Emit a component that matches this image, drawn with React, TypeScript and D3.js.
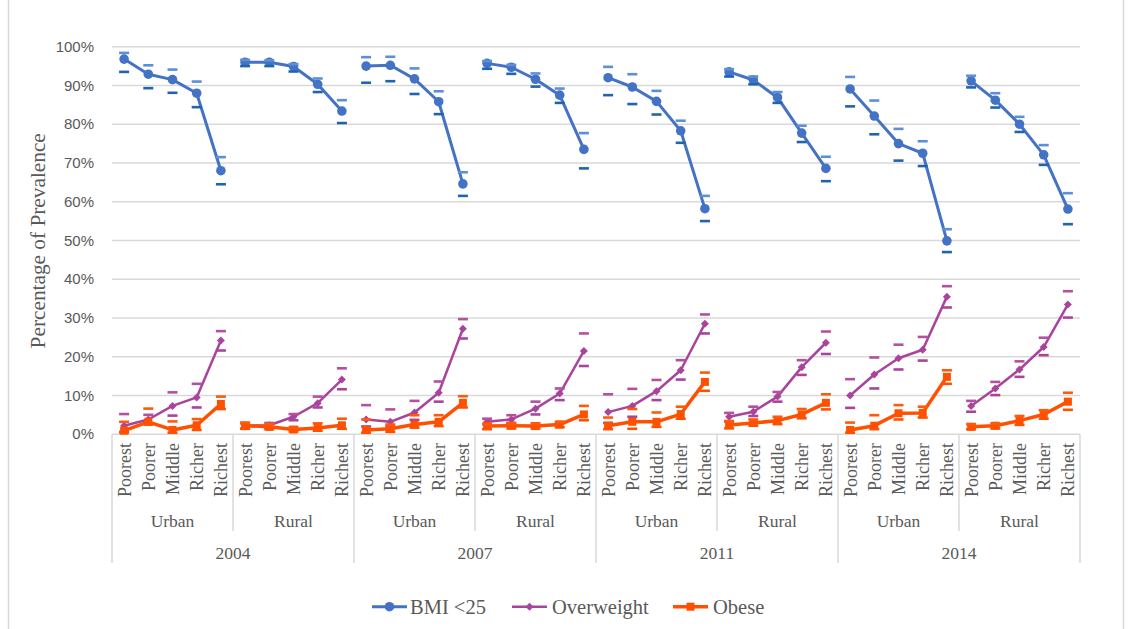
import React from "react";
import * as d3 from "d3";

const years = ["2004", "2007", "2011", "2014"];
const areas = ["Urban", "Rural"];
const quintiles = ["Poorest", "Poorer", "Middle", "Richer", "Richest"];
const yTicks = [0, 10, 20, 30, 40, 50, 60, 70, 80, 90, 100];

const bmiValues = [
  96.8, 92.9, 91.5, 88.0, 68.0, 96.0, 96.0, 94.9, 90.3, 83.4,
  95.0, 95.2, 91.7, 85.8, 64.6, 95.7, 94.7, 91.6, 87.5, 73.5,
  92.0, 89.6, 85.9, 78.3, 58.2, 93.5, 91.4, 86.9, 77.7, 68.6,
  89.1, 82.1, 75.0, 72.5, 49.9, 91.2, 86.2, 80.0, 72.1, 58.1,
];
const bmiUpper = [
  98.4, 95.2, 94.1, 91.0, 71.5, 96.6, 96.5, 95.5, 91.8, 86.2,
  97.3, 97.4, 94.4, 88.5, 67.6, 96.3, 95.3, 93.1, 89.2, 77.7,
  94.8, 92.9, 88.6, 80.9, 61.5, 94.2, 92.3, 88.3, 79.6, 71.6,
  92.2, 86.1, 78.8, 75.6, 52.9, 92.5, 88.0, 81.9, 74.6, 62.2,
];
const bmiLower = [
  93.5, 89.3, 88.1, 84.4, 64.5, 95.0, 95.0, 93.6, 88.3, 80.3,
  90.7, 91.1, 87.8, 82.6, 61.5, 94.3, 93.0, 89.7, 85.5, 68.6,
  87.5, 85.2, 82.5, 75.2, 55.0, 92.3, 90.3, 85.5, 75.4, 65.3,
  84.6, 77.4, 70.6, 69.2, 47.0, 89.5, 84.3, 78.0, 69.5, 54.2,
];

const owValues = [
  2.2, 3.8, 7.3, 9.5, 24.2, 2.2, 2.3, 4.5, 8.0, 14.1,
  3.8, 3.2, 5.6, 10.7, 27.2, 3.2, 3.8, 6.6, 10.5, 21.5,
  5.7, 7.3, 11.1, 16.5, 28.5, 4.5, 5.8, 9.7, 17.3, 23.6,
  10.0, 15.4, 19.6, 21.8, 35.5, 7.3, 11.8, 16.7, 22.5, 33.5,
];
const owUpper = [
  5.2, 5.0, 10.8, 13.0, 26.6, 2.8, 2.9, 5.2, 9.7, 17.0,
  7.5, 6.4, 8.6, 13.6, 29.7, 4.0, 4.9, 8.4, 11.8, 26.0,
  10.3, 11.7, 14.0, 19.1, 30.9, 5.5, 7.1, 10.9, 19.1, 26.5,
  14.2, 19.8, 23.1, 25.1, 38.2, 8.6, 13.5, 18.8, 24.9, 36.9,
];
const owLower = [
  0.6, 2.7, 4.8, 6.9, 21.6, 1.4, 1.5, 3.6, 6.9, 11.6,
  2.0, 2.0, 3.7, 8.4, 24.7, 2.6, 2.9, 5.1, 8.8, 17.6,
  2.9, 4.5, 8.8, 14.1, 26.0, 3.2, 4.7, 8.4, 15.3, 20.7,
  6.8, 11.8, 16.7, 19.0, 32.7, 5.8, 10.1, 14.8, 20.4, 30.1,
];

const obValues = [
  0.9, 3.2, 1.1, 2.3, 7.8, 2.2, 1.9, 1.2, 1.6, 2.3,
  1.1, 1.4, 2.5, 3.2, 8.1, 2.1, 2.2, 2.1, 2.5, 5.1,
  2.2, 3.2, 3.2, 5.2, 13.5, 2.4, 2.9, 3.5, 5.1, 8.1,
  1.1, 2.2, 5.4, 5.5, 14.8, 1.9, 2.2, 3.5, 5.1, 8.4,
];
const obUpper = [
  3.2, 6.6, 3.3, 3.9, 9.7, 3.0, 2.6, 1.8, 2.8, 4.0,
  3.8, 2.5, 4.9, 4.9, 9.8, 2.6, 2.8, 2.8, 3.2, 7.3,
  4.3, 6.5, 5.6, 7.1, 15.9, 3.4, 3.8, 4.5, 6.5, 10.3,
  3.0, 4.9, 7.5, 7.1, 16.5, 2.6, 2.8, 4.7, 6.2, 10.7,
];
const obLower = [
  0.4, 2.5, 0.4, 1.1, 6.5, 1.4, 1.3, 0.7, 0.9, 1.4,
  0.4, 0.6, 1.7, 2.1, 6.9, 1.3, 1.5, 1.5, 1.8, 3.6,
  1.3, 1.4, 1.9, 4.0, 11.2, 1.5, 2.2, 2.6, 4.1, 6.4,
  0.4, 1.3, 3.8, 4.3, 13.0, 1.3, 1.5, 2.4, 4.0, 6.3,
];

const seriesNames = ["BMI <25", "Overweight", "Obese"];

const W = 1129;
const H = 629;
const left = 112;
const right = 1080;
const top = 46.7;
const bottom = 434.2;

const serif = "Liberation Serif, Tinos, DejaVu Serif, Times New Roman, serif";
const sans = "Liberation Sans, Arial, sans-serif";
const textColor = "#595959";
const gridColor = "#d9d9d9";

export default function App() {
  const cats: { year: number; area: number; q: number; idx: number }[] = [];
  years.forEach((_, yi) =>
    areas.forEach((_, ai) =>
      quintiles.forEach((_, qi) =>
        cats.push({ year: yi, area: ai, q: qi, idx: cats.length })
      )
    )
  );
  const x = d3
    .scaleBand<number>()
    .domain(cats.map((c) => c.idx))
    .range([left, right])
    .padding(0);
  const bw = x.bandwidth();
  const cx = (i: number) => (x(i) as number) + bw / 2;
  const y = d3.scaleLinear().domain([0, 100]).range([bottom, top]);

  const series = [
    {
      name: seriesNames[0],
      values: bmiValues,
      upper: bmiUpper,
      lower: bmiLower,
      color: "#4472c4",
      upColor: "#5b8fd8",
      loColor: "#1f64ad",
      width: 3,
      marker: "circle",
    },
    {
      name: seriesNames[1],
      values: owValues,
      upper: owUpper,
      lower: owLower,
      color: "#a8449c",
      upColor: "#b4509f",
      loColor: "#a8449c",
      width: 2.5,
      marker: "diamond",
    },
    {
      name: seriesNames[2],
      values: obValues,
      upper: obUpper,
      lower: obLower,
      color: "#ff5000",
      upColor: "#ff5a0a",
      loColor: "#ff5000",
      width: 3.5,
      marker: "square",
    },
  ];

  const groups: number[][] = [];
  for (let g = 0; g < 8; g++) groups.push(d3.range(g * 5, g * 5 + 5));

  const marker = (type: string, px: number, py: number, color: string, key: string) => {
    if (type === "circle")
      return <circle key={key} cx={px} cy={py} r={4.8} fill={color} />;
    if (type === "diamond")
      return (
        <path
          key={key}
          d={`M${px},${py - 4}L${px + 4},${py}L${px},${py + 4}L${px - 4},${py}Z`}
          fill={color}
        />
      );
    return <rect key={key} x={px - 4} y={py - 4} width={8} height={8} fill={color} />;
  };

  const capW = 10;

  const legendItems = [
    { lx: 372, tx: 410 },
    { lx: 512, tx: 552 },
    { lx: 673, tx: 713 },
  ];

  return (
    <svg
      width={W}
      height={H}
      style={{ position: "absolute", left: 0, top: 0, background: "#fff" }}
    >
      <rect x={0} y={0} width={W} height={H} fill="#fff" />
      <line x1={8.5} x2={8.5} y1={0} y2={H} stroke={gridColor} strokeWidth={1.5} />
      <line x1={1123.5} x2={1123.5} y1={0} y2={H} stroke={gridColor} strokeWidth={1.5} />

      {yTicks.map((t) => (
        <g key={t}>
          <line
            x1={left}
            x2={right}
            y1={y(t)}
            y2={y(t)}
            stroke={gridColor}
            strokeWidth={1.5}
          />
          <text
            x={94}
            y={y(t)}
            dy="0.35em"
            textAnchor="end"
            style={{ fontFamily: sans }}
            fontSize={15}
            fill={textColor}
          >
            {t}%
          </text>
        </g>
      ))}

      <text
        transform={`translate(${45},${240.8}) rotate(-90)`}
        textAnchor="middle"
        style={{ fontFamily: serif }}
        fontSize={21.3}
        fill={textColor}
      >
        Percentage of Prevalence
      </text>

      {cats.map((c) => (
        <text
          key={"c" + c.idx}
          transform={`translate(${cx(c.idx) + 6.5},${443}) rotate(-90)`}
          textAnchor="end"
          style={{ fontFamily: serif }}
          fontSize={18}
          fill={textColor}
        >
          {quintiles[c.q]}
        </text>
      ))}
      {d3.range(0, 9).map((g) => {
        const xx = g < 8 ? (x(g * 5) as number) : right;
        const isYear = g % 2 === 0;
        return (
          <line
            key={"s" + g}
            x1={xx}
            x2={xx}
            y1={bottom}
            y2={isYear ? 563 : 531}
            stroke={gridColor}
            strokeWidth={1.5}
          />
        );
      })}
      {groups.map((gr, gi) => (
        <text
          key={"a" + gi}
          x={(cx(gr[0]) + cx(gr[4])) / 2}
          y={520.7}
          dy="0.35em"
          textAnchor="middle"
          style={{ fontFamily: serif }}
          fontSize={17.5}
          fill={textColor}
        >
          {areas[gi % 2]}
        </text>
      ))}
      {years.map((yr, yi) => (
        <text
          key={"y" + yi}
          x={((x(yi * 10) as number) + (x(yi * 10 + 9) as number) + bw) / 2}
          y={552.7}
          dy="0.35em"
          textAnchor="middle"
          style={{ fontFamily: serif }}
          fontSize={17.5}
          fill={textColor}
        >
          {yr}
        </text>
      ))}

      {series.map((s, si) => (
        <g key={"ser" + si}>
          {groups.map((gr, gi) => (
            <path
              key={"l" + gi}
              d={
                d3
                  .line<number>()
                  .x((i) => cx(i))
                  .y((i) => y(s.values[i]))(gr) as string
              }
              fill="none"
              stroke={s.color}
              strokeWidth={s.width}
              strokeLinejoin="round"
            />
          ))}
          {s.values.map((v, i) =>
            marker(s.marker, cx(i), y(v), s.color, "m" + i)
          )}
          {s.values.map((_, i) => (
            <g key={"e" + i}>
              <line
                x1={cx(i) - capW / 2}
                x2={cx(i) + capW / 2}
                y1={y(s.upper[i])}
                y2={y(s.upper[i])}
                stroke={s.upColor}
                strokeWidth={2.6}
              />
              <line
                x1={cx(i) - capW / 2}
                x2={cx(i) + capW / 2}
                y1={y(s.lower[i])}
                y2={y(s.lower[i])}
                stroke={s.loColor}
                strokeWidth={2.6}
              />
            </g>
          ))}
        </g>
      ))}

      {series.map((s, si) => {
        const it = legendItems[si];
        return (
          <g key={"lg" + si}>
            <line
              x1={it.lx}
              x2={it.lx + 35}
              y1={606.7}
              y2={606.7}
              stroke={s.color}
              strokeWidth={s.width}
            />
            {marker(s.marker, it.lx + 17.5, 606.7, s.color, "lm" + si)}
            <text
              x={it.tx}
              y={606.7}
              dy="0.35em"
              style={{ fontFamily: serif }}
              fontSize={20.5}
              fill={textColor}
            >
              {s.name}
            </text>
          </g>
        );
      })}
    </svg>
  );
}
